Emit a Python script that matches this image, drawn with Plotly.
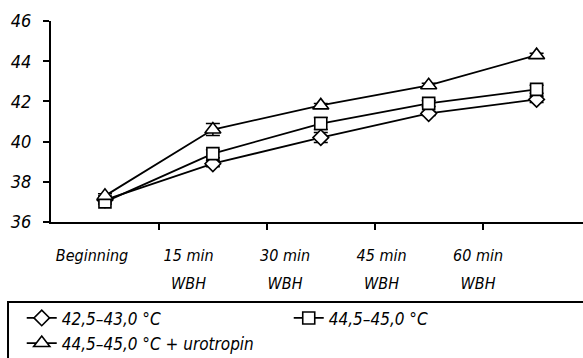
import plotly.graph_objects as go

tick_line1 = ["Beginning", "15 min", "30 min", "45 min", "60 min"]
tick_line2 = ["", "WBH", "WBH", "WBH", "WBH"]
series_names = ["42,5–43,0 °C", "44,5–45,0 °C", "44,5–45,0 °C + urotropin"]
diamond_vals = [37.1, 38.9, 40.2, 41.4, 42.1]
square_vals = [37.0, 39.4, 40.9, 41.9, 42.6]
triangle_vals = [37.3, 40.6, 41.8, 42.8, 44.3]
diamond_err = [0.1, 0.15, 0.25, 0.1, 0.15]
square_err = [0.1, 0.2, 0.3, 0.15, 0.2]
triangle_err = [0.1, 0.3, 0.1, 0.1, 0.1]
y_ticks = [36, 38, 40, 42, 44, 46]

FONT = "DejaVu Sans Condensed, Liberation Sans Narrow, Arial Narrow, Liberation Sans, Arial, sans-serif"
x_idx = list(range(len(tick_line1)))

fig = go.Figure()
specs = [
    (series_names[0], diamond_vals, diamond_err, "diamond", 12),
    (series_names[1], square_vals, square_err, "square", 12),
    (series_names[2], triangle_vals, triangle_err, "triangle-up", 14),
]
for name, vals, err, sym, size in specs:
    fig.add_trace(go.Scatter(
        x=x_idx, y=vals, name=name, mode="lines+markers",
        line=dict(color="black", width=1.8),
        marker=dict(symbol=sym, size=size, color="white", line=dict(color="black", width=1.6)),
        error_y=dict(type="data", array=err, visible=True, color="black", thickness=1.5, width=7),
    ))

# invisible traces for the label axes
for ax in ("x2", "x3"):
    fig.add_trace(go.Scatter(x=x_idx, y=diamond_vals, xaxis=ax, mode="markers",
                             marker=dict(opacity=0), showlegend=False, hoverinfo="skip"))

label_axis = dict(overlaying="x", anchor="y", side="bottom", range=[-0.425, 5.088],
                  tickmode="array", tickvals=x_idx, ticks="", showline=False,
                  showgrid=False, zeroline=False, automargin=False,
                  tickfont=dict(family=FONT, size=16, style="italic"))

fig.update_layout(
    width=583, height=358,
    margin=dict(l=51, r=0, t=21, b=136, autoexpand=False),
    paper_bgcolor="white", plot_bgcolor="white",
    font=dict(family=FONT, color="black", size=17),
    xaxis=dict(range=[-0.5, 4.43], tickmode="array", tickvals=[0.5, 1.5, 2.5, 3.5],
               showticklabels=False, ticks="outside", ticklen=6, tickwidth=2, tickcolor="black",
               showline=True, linecolor="black", linewidth=2, showgrid=False, zeroline=False,
               automargin=False),
    xaxis2=dict(label_axis, ticktext=tick_line1, ticklabelstandoff=22),
    xaxis3=dict(label_axis, ticktext=tick_line2, ticklabelstandoff=50),
    yaxis=dict(range=[36, 46], tickmode="array", tickvals=y_ticks,
               ticktext=[f"<i>{v}</i>" for v in y_ticks],
               ticks="outside", ticklen=6, tickwidth=2, tickcolor="black",
               showline=True, linecolor="black", linewidth=2, showgrid=False, zeroline=False,
               automargin=False,
               tickfont=dict(family=FONT, size=18, style="italic"), ticklabelstandoff=8),
    legend=dict(orientation="h", x=-0.055, y=-0.39, xanchor="left", yanchor="top",
                entrywidth=222, entrywidthmode="pixels",
                font=dict(family=FONT, size=17, style="italic"),
                bgcolor="rgba(0,0,0,0)", borderwidth=0, tracegroupgap=0),
    shapes=[dict(type="rect", xref="paper", yref="paper",
                 x0=-0.0808, x1=1.05, y0=-0.398, y1=-0.75,
                 line=dict(color="black", width=2))],
)

fig.write_html("out.html", config={"displayModeBar": False},
               post_script="document.body.style.margin='0';")
